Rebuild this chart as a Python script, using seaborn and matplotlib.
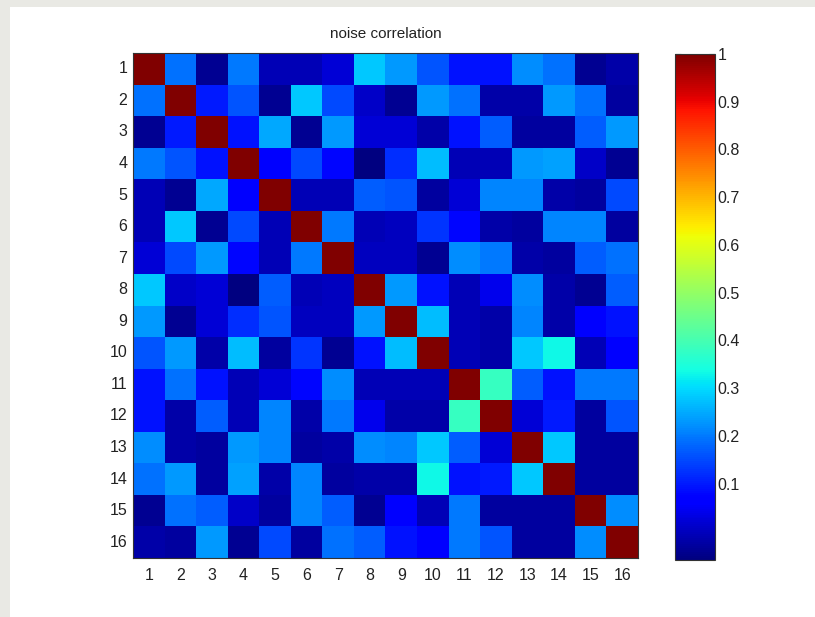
import numpy as np
import pandas as pd
import matplotlib
matplotlib.use("Agg")
import matplotlib.pyplot as plt
from matplotlib.patches import Rectangle
import seaborn as sns

# === Data: 16x16 noise correlation matrix ===
labels = [str(i) for i in range(1, 17)]

r1 = [1.00, 0.19, -0.04, 0.20, -0.01, -0.01, 0.02, 0.28, 0.23, 0.16, 0.09, 0.09, 0.22, 0.19, -0.04, -0.02]
r2 = [0.19, 1.00, 0.10, 0.16, -0.04, 0.28, 0.15, 0.01, -0.04, 0.23, 0.19, -0.02, -0.02, 0.23, 0.19, -0.03]
r3 = [-0.04, 0.10, 1.00, 0.09, 0.25, -0.04, 0.23, 0.02, 0.02, -0.02, 0.09, 0.17, -0.03, -0.03, 0.17, 0.23]
r4 = [0.20, 0.16, 0.09, 1.00, 0.07, 0.15, 0.08, -0.06, 0.12, 0.27, -0.01, -0.01, 0.23, 0.24, 0.01, -0.04]
r5 = [-0.01, -0.04, 0.25, 0.07, 1.00, -0.01, -0.01, 0.17, 0.16, -0.03, 0.02, 0.21, 0.21, -0.02, -0.03, 0.15]
r6 = [-0.01, 0.28, -0.04, 0.15, -0.01, 1.00, 0.20, -0.01, 0.00, 0.13, 0.08, -0.02, -0.03, 0.21, 0.21, -0.03]
r7 = [0.02, 0.15, 0.23, 0.08, -0.01, 0.20, 1.00, 0.00, 0.00, -0.04, 0.22, 0.20, -0.02, -0.03, 0.17, 0.19]
r8 = [0.28, 0.01, 0.02, -0.06, 0.17, -0.01, 0.00, 1.00, 0.23, 0.09, -0.01, 0.04, 0.22, -0.02, -0.04, 0.17]
r9 = [0.23, -0.04, 0.02, 0.12, 0.16, 0.00, 0.00, 0.23, 1.00, 0.27, -0.01, -0.02, 0.21, -0.02, 0.07, 0.09]
r10 = [0.16, 0.23, -0.02, 0.27, -0.03, 0.13, -0.04, 0.09, 0.27, 1.00, -0.01, -0.02, 0.28, 0.33, -0.01, 0.07]
r11 = [0.09, 0.19, 0.09, -0.01, 0.02, 0.08, 0.22, -0.01, -0.01, -0.01, 1.00, 0.38, 0.17, 0.09, 0.20, 0.20]
r12 = [0.09, -0.02, 0.17, -0.01, 0.21, -0.02, 0.20, 0.04, -0.02, -0.02, 0.38, 1.00, 0.02, 0.10, -0.03, 0.16]
r13 = [0.22, -0.02, -0.03, 0.23, 0.21, -0.03, -0.02, 0.22, 0.21, 0.28, 0.17, 0.02, 1.00, 0.28, -0.03, -0.03]
r14 = [0.19, 0.23, -0.03, 0.24, -0.02, 0.21, -0.03, -0.02, -0.02, 0.33, 0.09, 0.10, 0.28, 1.00, -0.03, -0.03]
r15 = [-0.04, 0.19, 0.17, 0.01, -0.03, 0.21, 0.17, -0.04, 0.07, -0.01, 0.20, -0.03, -0.03, -0.03, 1.00, 0.22]
r16 = [-0.02, -0.03, 0.23, -0.04, 0.15, -0.03, 0.19, 0.17, 0.09, 0.07, 0.20, 0.16, -0.03, -0.03, 0.22, 1.00]

rows = [r1, r2, r3, r4, r5, r6, r7, r8, r9, r10, r11, r12, r13, r14, r15, r16]
corr = pd.DataFrame(rows, index=labels, columns=labels)

cbar_ticks = [0.1, 0.2, 0.3, 0.4, 0.5, 0.6, 0.7, 0.8, 0.9, 1.0]
cbar_labels = ["0.1", "0.2", "0.3", "0.4", "0.5", "0.6", "0.7", "0.8", "0.9", "1"]

# === Style ===
sns.set_style("white")
plt.rcParams['font.family'] = ['Liberation Sans', 'DejaVu Sans']
txt_color = "#222222"

fig = plt.figure(figsize=(8.15, 6.17), dpi=100)
W, H = 815, 617

# grey window frame (left and top strips)
fig.patches.append(Rectangle((0, 0), 10 / W, 1, transform=fig.transFigure,
                             facecolor="#e9e9e4", edgecolor="none", zorder=-1))
fig.patches.append(Rectangle((0, 1 - 7 / H), 1, 7 / H, transform=fig.transFigure,
                             facecolor="#e9e9e4", edgecolor="none", zorder=-1))

ax = fig.add_axes([133 / W, 1 - 558 / H, 505 / W, 505 / H])
cax = fig.add_axes([675 / W, 1 - 560 / H, 40 / W, 506 / H])

sns.heatmap(corr, cmap="jet", ax=ax, cbar_ax=cax, square=False,
            linewidths=0, xticklabels=labels, yticklabels=labels)
ax.set_aspect("auto")

ax.set_title("noise correlation", fontsize=11, color=txt_color, pad=11)
ax.tick_params(axis="both", which="both", direction="in", length=4, width=0.8,
               labelsize=11.5, labelcolor=txt_color, color="#333333",
               top=True, right=True, bottom=True, left=True)
ax.tick_params(axis="x", pad=7)
ax.tick_params(axis="y", pad=4)
ax.set_yticklabels(labels, rotation=0)
ax.set_xticklabels(labels, rotation=0)
for sp in ax.spines.values():
    sp.set_visible(True)
    sp.set_color("#333333")
    sp.set_linewidth(0.8)

cbar = ax.collections[0].colorbar
cbar.set_ticks(cbar_ticks)
cbar.set_ticklabels(cbar_labels)
cbar.ax.tick_params(direction="in", length=4, width=0.8, labelsize=11.5,
                    labelcolor=txt_color, color="#333333", pad=2,
                    left=True, right=True)
cbar.outline.set_edgecolor("#333333")
cbar.outline.set_linewidth(0.8)

plt.savefig("out.png", dpi=100)
